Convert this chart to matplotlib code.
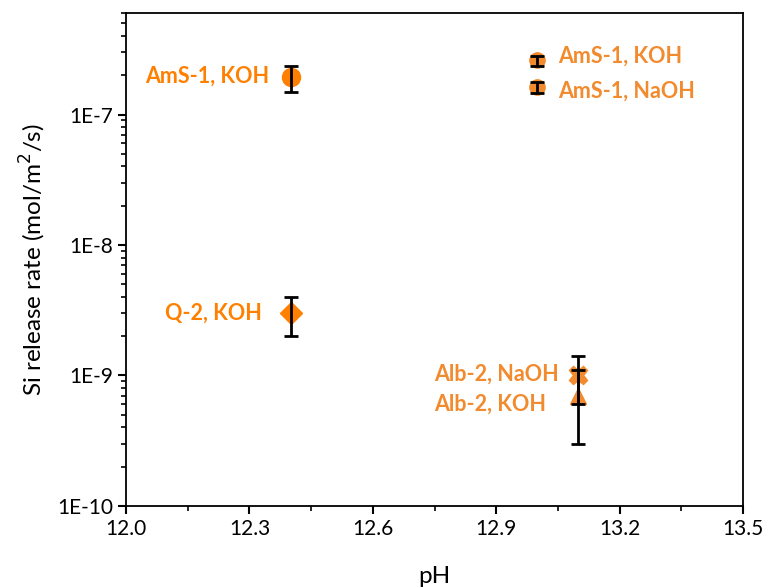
import numpy as np
import matplotlib
matplotlib.use("Agg")
import matplotlib.pyplot as plt
from matplotlib.ticker import FixedLocator, FuncFormatter, LogLocator, NullFormatter

plt.rcParams['font.family'] = ['Lato', 'DejaVu Sans']

# Si release rates (mol/m2/s) with lower / upper error bounds
labels = ["AmS-1, KOH", "Q-2, KOH", "AmS-1, KOH", "AmS-1, NaOH", "Alb-2, NaOH", "Alb-2, KOH"]
ph = [12.4, 12.4, 13.0, 13.0, 13.1, 13.1]
rate = [1.95e-7, 3.0e-9, 2.6e-7, 1.62e-7, 1.0e-9, 7.0e-10]
err_lo = [1.48e-7, 2.0e-9, 2.35e-7, 1.47e-7, 6.0e-10, 3.0e-10]
err_hi = [2.37e-7, 4.0e-9, 2.8e-7, 1.77e-7, 1.4e-9, 1.1e-9]
markers = ["o", "D", "o", "o", "X", "^"]
msizes = [13, 11, 11, 11, 13, 12]

orange = "#ff8000"
orange_lt = "#f28a2e"
text_colors = [orange, orange, orange_lt, orange_lt, orange_lt, orange_lt]
# label offsets in pixels (dx, dy), alignment
offsets = [(-21, 0, "right"), (-29, 0, "right"), (21, 4, "left"),
           (21, -4, "left"), (-20, 1, "right"), (-32, -8, "right")]

fig = plt.figure(figsize=(7.67, 5.88), dpi=100)
ax = fig.add_axes([0.1643, 0.1395, 0.8044, 0.8384])

for i in range(len(rate)):
    yerr = [[rate[i] - err_lo[i]], [err_hi[i] - rate[i]]]
    ax.errorbar([ph[i]], [rate[i]], yerr=yerr, fmt="none", ecolor="black",
                elinewidth=2, capsize=5, capthick=2, zorder=2)
    ax.plot([ph[i]], [rate[i]], marker=markers[i], markersize=msizes[i],
            color=orange if i < 2 else orange_lt, linestyle="none", zorder=1)
    dx, dy, ha = offsets[i]
    ax.annotate(labels[i], xy=(ph[i], rate[i]), xytext=(dx, dy),
                textcoords="offset pixels", ha=ha, va="center",
                fontsize=15.5, fontweight="bold", color=text_colors[i])

ax.set_yscale("log")
ax.set_xlim(12.0, 13.5)
ax.set_ylim(1e-10, 6e-7)

xticks = [12.0, 12.3, 12.6, 12.9, 13.2, 13.5]
ax.set_xticks(xticks)
ax.set_xticklabels([f"{t:.1f}" for t in xticks])
ax.xaxis.set_minor_locator(FixedLocator(np.arange(12.15, 13.5, 0.3)))

yticks = [1e-10, 1e-9, 1e-8, 1e-7]
ax.yaxis.set_major_locator(FixedLocator(yticks))
ax.yaxis.set_major_formatter(FuncFormatter(lambda v, p: f"1E{int(round(np.log10(v)))}"))
ax.yaxis.set_minor_locator(LogLocator(base=10, subs=np.arange(2, 10)))
ax.yaxis.set_minor_formatter(NullFormatter())

ax.tick_params(which="major", direction="out", length=6, width=1.5, labelsize=15)
ax.tick_params(which="minor", direction="out", length=3.5, width=1.2)
for s in ax.spines.values():
    s.set_linewidth(1.3)

ax.set_xlabel("pH", fontsize=17.5, labelpad=19)
ax.set_ylabel("Si release rate (mol/m$^2$/s)", fontsize=17.5, labelpad=6)

fig.savefig("out.png", dpi=100)
